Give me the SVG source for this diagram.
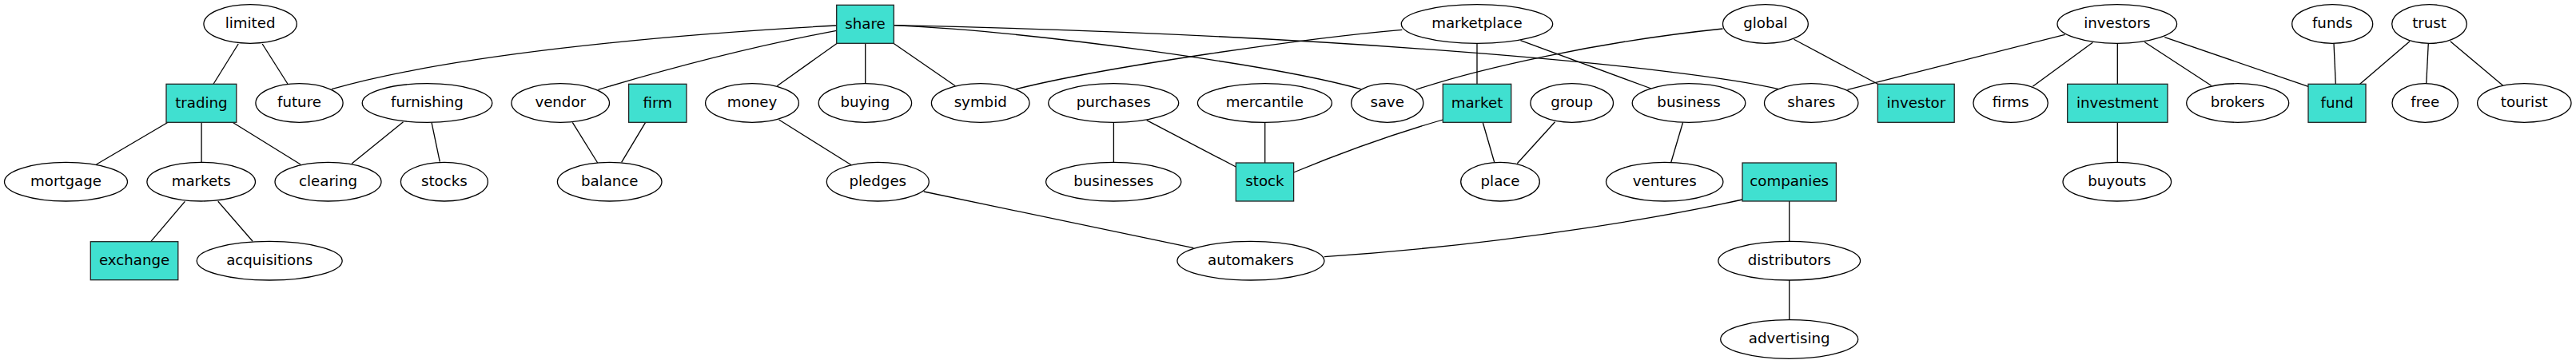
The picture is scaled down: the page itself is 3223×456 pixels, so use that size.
<svg xmlns="http://www.w3.org/2000/svg" width="3223" height="456" viewBox="0 0 3223 456">
<style>
.e ellipse{fill:#fff;stroke:#000;stroke-width:1.3}
.r rect{fill:#40e0d0;stroke:#222;stroke-width:1.3}
text{font-family:"DejaVu Sans","Liberation Sans",sans-serif;font-size:18.2px;text-anchor:middle;fill:#000}
#edges path,#edges line{stroke:#000;stroke-width:1.3;fill:none}
</style>
<rect width="3223" height="456" fill="#fff"/>
<g id="edges">
<line x1="298.2" y1="55" x2="267.2" y2="105"/>
<line x1="328.2" y1="55" x2="359.9" y2="105"/>
<line x1="210.1" y1="153.3" x2="120.5" y2="206"/>
<line x1="252.1" y1="153.3" x2="252.1" y2="203.3"/>
<line x1="291" y1="153.3" x2="376.1" y2="206"/>
<line x1="231.4" y1="252.3" x2="188.7" y2="302.7"/>
<line x1="272.8" y1="252.3" x2="316.1" y2="302.3"/>
<line x1="504.5" y1="152.7" x2="440.1" y2="205"/>
<line x1="540" y1="153.3" x2="550.3" y2="202.7"/>
<path d="M415,111.7 C560,70 820,44 1046.7,32"/>
<path d="M1046.7,38.3 Q905,65 748.4,112.3"/>
<line x1="1047.3" y1="54.3" x2="972.2" y2="107.7"/>
<line x1="1082.7" y1="54.3" x2="1082.7" y2="104.7"/>
<line x1="1117.9" y1="54.3" x2="1195.4" y2="107.7"/>
<path d="M1118.3,31.7 C1300,40 1600,82.7 1702.7,111.7"/>
<path d="M1118.3,31.7 C1700,44 2120,86 2225.4,111.7"/>
<path d="M1271.1,111.7 C1380,84 1640,47 1754.3,37.3"/>
<line x1="716.3" y1="153.3" x2="747.7" y2="204"/>
<line x1="807.6" y1="153.3" x2="777.6" y2="203.3"/>
<line x1="974.6" y1="150" x2="1065.2" y2="206.7"/>
<line x1="1393.4" y1="153.3" x2="1393.4" y2="203.3"/>
<line x1="1434.7" y1="150.7" x2="1546.3" y2="209"/>
<line x1="1582.7" y1="153.3" x2="1582.7" y2="204"/>
<line x1="1155.8" y1="240" x2="1493.3" y2="310.7"/>
<line x1="1848" y1="54.3" x2="1848" y2="105.3"/>
<line x1="1902.4" y1="50.7" x2="2066" y2="111"/>
<path d="M1771.5,112.3 C1850,86 2000,52 2155.5,36"/>
<path d="M1805.3,150 Q1715,176 1618.6,216"/>
<line x1="1855.2" y1="153.3" x2="1869.7" y2="203.3"/>
<line x1="1945.5" y1="152.7" x2="1898.3" y2="204.7"/>
<line x1="2105.6" y1="153.3" x2="2090.8" y2="203.3"/>
<path d="M2180,250 C2100,268 1900,305 1656.9,321.7"/>
<line x1="2244.4" y1="49.3" x2="2349.4" y2="105.3"/>
<line x1="2583.6" y1="43.3" x2="2311.5" y2="112.3"/>
<line x1="2618.3" y1="53.3" x2="2543.3" y2="108.3"/>
<line x1="2649.3" y1="54.3" x2="2649.3" y2="105.3"/>
<line x1="2649.3" y1="153.3" x2="2649.3" y2="203.3"/>
<line x1="2683.3" y1="52.7" x2="2766.7" y2="107.3"/>
<line x1="2708.3" y1="46.7" x2="2888" y2="108.3"/>
<line x1="2238.7" y1="252" x2="2238.7" y2="302.4"/>
<line x1="2238.7" y1="351" x2="2238.7" y2="400.7"/>
<line x1="2920" y1="54.3" x2="2922.3" y2="105.3"/>
<line x1="3015" y1="51.7" x2="2952.7" y2="105.3"/>
<line x1="3038.3" y1="54.3" x2="3035.7" y2="104.7"/>
<line x1="3065.7" y1="51.7" x2="3131.7" y2="107.3"/>
</g>
<g id="limited" class="e"><ellipse cx="313.1" cy="30" rx="58.2" ry="24.3"/><text x="313.1" y="35.3">limited</text></g>
<g id="future" class="e"><ellipse cx="374.5" cy="129" rx="54.6" ry="24.3"/><text x="374.5" y="134.3">future</text></g>
<g id="furnishing" class="e"><ellipse cx="534.5" cy="129" rx="81.3" ry="24.3"/><text x="534.5" y="134.3">furnishing</text></g>
<g id="vendor" class="e"><ellipse cx="701.2" cy="129" rx="61.3" ry="24.3"/><text x="701.2" y="134.3">vendor</text></g>
<g id="money" class="e"><ellipse cx="941" cy="129" rx="58.4" ry="24.3"/><text x="941" y="134.3">money</text></g>
<g id="buying" class="e"><ellipse cx="1082.4" cy="129" rx="58.2" ry="24.3"/><text x="1082.4" y="134.3">buying</text></g>
<g id="symbid" class="e"><ellipse cx="1226.7" cy="129" rx="61.3" ry="24.3"/><text x="1226.7" y="134.3">symbid</text></g>
<g id="purchases" class="e"><ellipse cx="1393.2" cy="129" rx="81.5" ry="24.3"/><text x="1393.2" y="134.3">purchases</text></g>
<g id="mercantile" class="e"><ellipse cx="1582.4" cy="129" rx="84" ry="24.3"/><text x="1582.4" y="134.3">mercantile</text></g>
<g id="save" class="e"><ellipse cx="1735.7" cy="129" rx="45.1" ry="24.3"/><text x="1735.7" y="134.3">save</text></g>
<g id="marketplace" class="e"><ellipse cx="1848" cy="30" rx="94.7" ry="24.3"/><text x="1848" y="35.3">marketplace</text></g>
<g id="group" class="e"><ellipse cx="1966.7" cy="129" rx="51.8" ry="24.3"/><text x="1966.7" y="134.3">group</text></g>
<g id="business" class="e"><ellipse cx="2113" cy="129" rx="70.8" ry="24.3"/><text x="2113" y="134.3">business</text></g>
<g id="global" class="e"><ellipse cx="2208.9" cy="30" rx="53.4" ry="24.3"/><text x="2208.9" y="35.3">global</text></g>
<g id="shares" class="e"><ellipse cx="2266.2" cy="129" rx="58.7" ry="24.3"/><text x="2266.2" y="134.3">shares</text></g>
<g id="firms" class="e"><ellipse cx="2515.6" cy="129" rx="46.7" ry="24.3"/><text x="2515.6" y="134.3">firms</text></g>
<g id="investors" class="e"><ellipse cx="2648.8" cy="30" rx="74.8" ry="24.3"/><text x="2648.8" y="35.3">investors</text></g>
<g id="brokers" class="e"><ellipse cx="2799.7" cy="129" rx="64" ry="24.3"/><text x="2799.7" y="134.3">brokers</text></g>
<g id="funds" class="e"><ellipse cx="2918.2" cy="30" rx="50.5" ry="24.3"/><text x="2918.2" y="35.3">funds</text></g>
<g id="trust" class="e"><ellipse cx="3039.5" cy="30" rx="46.8" ry="24.3"/><text x="3039.5" y="35.3">trust</text></g>
<g id="free" class="e"><ellipse cx="3034.2" cy="129" rx="41.2" ry="24.3"/><text x="3034.2" y="134.3">free</text></g>
<g id="tourist" class="e"><ellipse cx="3158.3" cy="129" rx="58.7" ry="24.3"/><text x="3158.3" y="134.3">tourist</text></g>
<g id="mortgage" class="e"><ellipse cx="82.5" cy="227.7" rx="77" ry="24.3"/><text x="82.5" y="233">mortgage</text></g>
<g id="markets" class="e"><ellipse cx="251.7" cy="227.7" rx="67.8" ry="24.3"/><text x="251.7" y="233">markets</text></g>
<g id="clearing" class="e"><ellipse cx="410.5" cy="227.7" rx="66.5" ry="24.3"/><text x="410.5" y="233">clearing</text></g>
<g id="stocks" class="e"><ellipse cx="555.9" cy="227.7" rx="54.5" ry="24.3"/><text x="555.9" y="233">stocks</text></g>
<g id="balance" class="e"><ellipse cx="762.7" cy="227.7" rx="65.3" ry="24.3"/><text x="762.7" y="233">balance</text></g>
<g id="pledges" class="e"><ellipse cx="1098.3" cy="227.7" rx="64" ry="24.3"/><text x="1098.3" y="233">pledges</text></g>
<g id="businesses" class="e"><ellipse cx="1393.2" cy="227.7" rx="84.6" ry="24.3"/><text x="1393.2" y="233">businesses</text></g>
<g id="place" class="e"><ellipse cx="1877" cy="227.7" rx="49.3" ry="24.3"/><text x="1877" y="233">place</text></g>
<g id="ventures" class="e"><ellipse cx="2082.7" cy="227.7" rx="73.2" ry="24.3"/><text x="2082.7" y="233">ventures</text></g>
<g id="buyouts" class="e"><ellipse cx="2648.8" cy="227.7" rx="67.8" ry="24.3"/><text x="2648.8" y="233">buyouts</text></g>
<g id="acquisitions" class="e"><ellipse cx="337.2" cy="326.7" rx="91" ry="24.3"/><text x="337.2" y="332">acquisitions</text></g>
<g id="automakers" class="e"><ellipse cx="1564.9" cy="326.7" rx="92" ry="24.3"/><text x="1564.9" y="332">automakers</text></g>
<g id="distributors" class="e"><ellipse cx="2238.7" cy="326.7" rx="88.9" ry="24.3"/><text x="2238.7" y="332">distributors</text></g>
<g id="advertising" class="e"><ellipse cx="2238.7" cy="425" rx="86" ry="24.3"/><text x="2238.7" y="430.3">advertising</text></g>
<g id="share" class="r"><rect x="1046.7" y="6.3" width="71.6" height="48"/><text x="1082.5" y="35.6">share</text></g>
<g id="trading" class="r"><rect x="208" y="105.3" width="87.8" height="48"/><text x="251.9" y="134.6">trading</text></g>
<g id="firm" class="r"><rect x="786.6" y="105.3" width="72.3" height="48"/><text x="822.7" y="134.6">firm</text></g>
<g id="market" class="r"><rect x="1805.3" y="105.3" width="85.4" height="48"/><text x="1848" y="134.6">market</text></g>
<g id="investor" class="r"><rect x="2349.4" y="105.3" width="95.8" height="48"/><text x="2397.3" y="134.6">investor</text></g>
<g id="investment" class="r"><rect x="2586.7" y="105.3" width="125.3" height="48"/><text x="2649.3" y="134.6">investment</text></g>
<g id="fund" class="r"><rect x="2888" y="105.3" width="72" height="48"/><text x="2924" y="134.6">fund</text></g>
<g id="stock" class="r"><rect x="1546.3" y="204" width="72.3" height="48"/><text x="1582.5" y="233.3">stock</text></g>
<g id="companies" class="r"><rect x="2180" y="204" width="117.4" height="48"/><text x="2238.7" y="233.3">companies</text></g>
<g id="exchange" class="r"><rect x="113.3" y="302.7" width="109.5" height="48"/><text x="168.1" y="332">exchange</text></g>
</svg>
